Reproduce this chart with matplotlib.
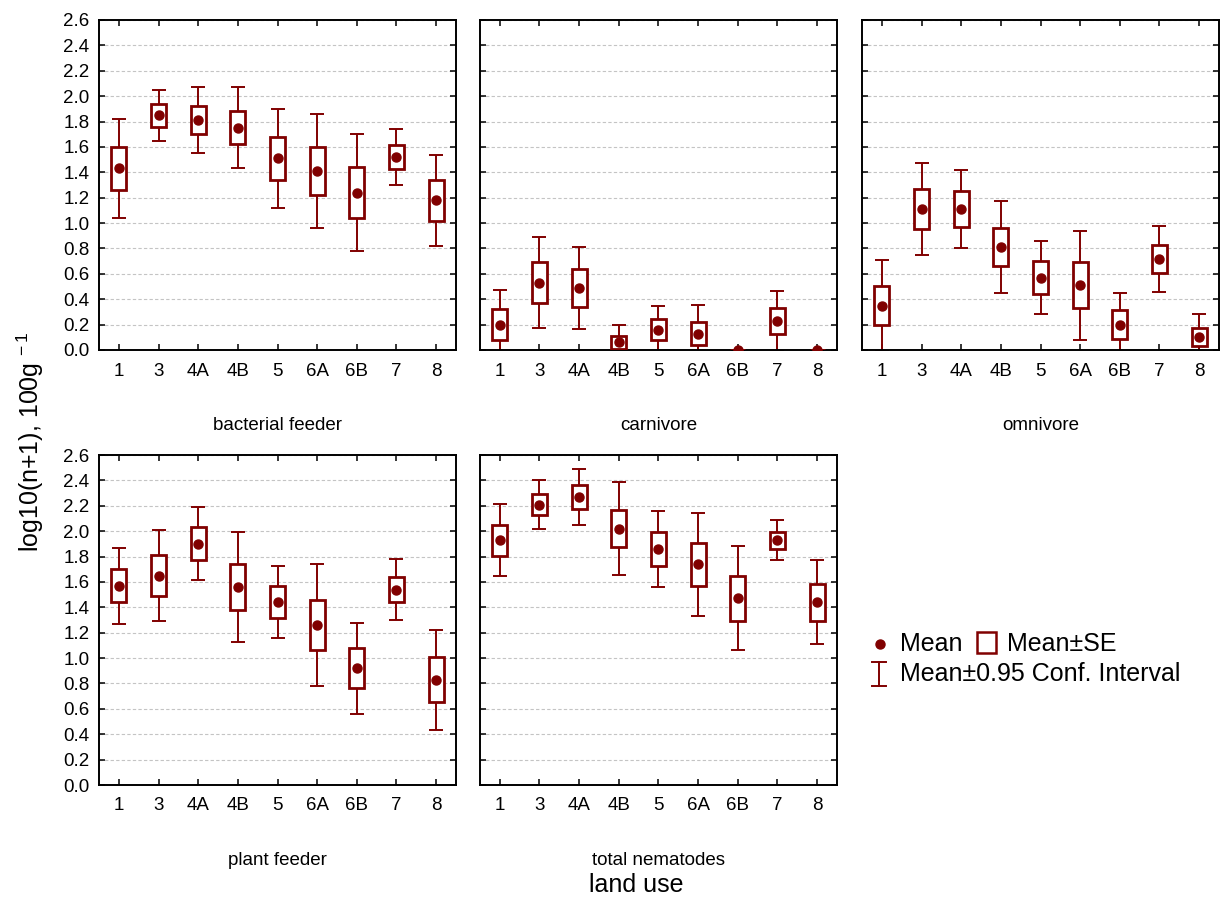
import matplotlib
matplotlib.use("Agg")
import matplotlib.pyplot as plt
from matplotlib.patches import Rectangle

plt.rcParams['font.family'] = ['Liberation Sans', 'DejaVu Sans']
plt.rcParams['mathtext.fontset'] = 'custom'
plt.rcParams['mathtext.rm'] = 'Liberation Sans'

# land use categories (x axis)
land_use = ['1', '3', '4A', '4B', '5', '6A', '6B', '7', '8']

# one panel per feeding group: mean, standard error, 0.95 CI half width
bact_mean = [1.43, 1.85, 1.81, 1.75, 1.51, 1.41, 1.24, 1.52, 1.18]
bact_se = [0.17, 0.09, 0.11, 0.13, 0.17, 0.19, 0.20, 0.095, 0.16]
bact_ci = [0.39, 0.20, 0.26, 0.32, 0.39, 0.45, 0.46, 0.22, 0.36]

carn_mean = [0.20, 0.53, 0.49, 0.06, 0.16, 0.13, 0.0, 0.23, 0.0]
carn_se = [0.12, 0.16, 0.15, 0.053, 0.083, 0.09, 0.0, 0.10, 0.0]
carn_ci = [0.27, 0.36, 0.325, 0.14, 0.19, 0.225, 0.0, 0.235, 0.0]

omni_mean = [0.35, 1.11, 1.11, 0.81, 0.57, 0.51, 0.20, 0.72, 0.10]
omni_se = [0.155, 0.16, 0.14, 0.15, 0.13, 0.18, 0.114, 0.11, 0.07]
omni_ci = [0.36, 0.365, 0.31, 0.36, 0.29, 0.43, 0.25, 0.26, 0.18]

plant_mean = [1.57, 1.65, 1.90, 1.56, 1.44, 1.26, 0.92, 1.54, 0.83]
plant_se = [0.13, 0.16, 0.13, 0.18, 0.126, 0.20, 0.158, 0.10, 0.175]
plant_ci = [0.30, 0.356, 0.287, 0.435, 0.285, 0.478, 0.36, 0.238, 0.394]

total_mean = [1.93, 2.21, 2.27, 2.02, 1.86, 1.74, 1.47, 1.93, 1.44]
total_se = [0.122, 0.083, 0.095, 0.148, 0.134, 0.169, 0.18, 0.067, 0.146]
total_ci = [0.284, 0.19, 0.22, 0.369, 0.302, 0.405, 0.41, 0.16, 0.33]

groups = ['bacterial feeder', 'carnivore', 'omnivore', 'plant feeder', 'total nematodes']
means = [bact_mean, carn_mean, omni_mean, plant_mean, total_mean]
ses = [bact_se, carn_se, omni_se, plant_se, total_se]
cis = [bact_ci, carn_ci, omni_ci, plant_ci, total_ci]

yticks = [i * 0.2 for i in range(14)]
col = '#800000'

W, H = 1221, 900
fig = plt.figure(figsize=(W / 100, H / 100), dpi=100)

# panel positions in pixels (left, top)
lefts = [99, 480, 862]
tops = [20, 455]
pw, ph = 357, 330

x = list(range(len(land_use)))
for k in range(len(groups)):
    r, c = divmod(k, 3)
    ax = fig.add_axes([lefts[c] / W, 1 - (tops[r] + ph) / H, pw / W, ph / H])
    m, s, ci = means[k], ses[k], cis[k]
    ax.errorbar(x, m, yerr=ci, fmt='none', ecolor=col, elinewidth=1.4,
                capsize=5, capthick=1.4, zorder=2)
    ax.bar(x, [2 * v for v in s], bottom=[a - b for a, b in zip(m, s)],
           width=0.38, facecolor='white', edgecolor=col, linewidth=2, zorder=3)
    ax.plot(x, m, 'o', color=col, markersize=6.5, zorder=4)
    ax.set_xlim(-0.5, 8.5)
    ax.set_ylim(0, 2.6)
    ax.set_xticks(x)
    ax.set_xticklabels(land_use)
    ax.set_yticks(yticks)
    if c == 0:
        ax.set_yticklabels(['%.1f' % v for v in yticks])
    else:
        ax.set_yticklabels([])
    ax.tick_params(direction='in', length=4, width=1.1, top=True, right=True,
                   labelsize=13.5, colors='black')
    ax.tick_params(axis='x', pad=9)
    ax.tick_params(axis='y', pad=7)
    ax.yaxis.grid(True, linestyle=(0, (3, 2)), color='#c4c4c4', linewidth=0.8)
    ax.set_axisbelow(True)
    for sp in ax.spines.values():
        sp.set_linewidth(1.4)
    ax.text(0.5, -80 / ph, groups[k], transform=ax.transAxes, ha='center',
            va='baseline', fontsize=13.5)

fig.text(30 / W, 1 - 442 / H, r'log10(n+1), 100g$^{\,-1}$', rotation=90,
         ha='center', va='center', fontsize=18)
fig.text(636 / W, 1 - 885 / H, 'land use', ha='center', va='center', fontsize=18)

# legend block drawn in pixel coordinates
lax = fig.add_axes([860 / W, 1 - 700 / H, 350 / W, 80 / H])
lax.set_xlim(860, 1210)
lax.set_ylim(700, 620)
lax.axis('off')
lax.plot([880], [644], 'o', color=col, markersize=6.5)
lax.text(900, 644, 'Mean', fontsize=18, va='center')
lax.add_patch(Rectangle((977, 632), 19, 21, facecolor='white', edgecolor=col, linewidth=1.8))
lax.text(1007, 644, 'Mean±SE', fontsize=18, va='center')
lax.plot([879, 879], [662, 686], color=col, linewidth=1.4)
lax.plot([872, 886], [662, 662], color=col, linewidth=1.4)
lax.plot([872, 886], [686, 686], color=col, linewidth=1.4)
lax.text(900, 674, 'Mean±0.95 Conf. Interval', fontsize=18, va='center')

plt.savefig('out.png', dpi=100)
